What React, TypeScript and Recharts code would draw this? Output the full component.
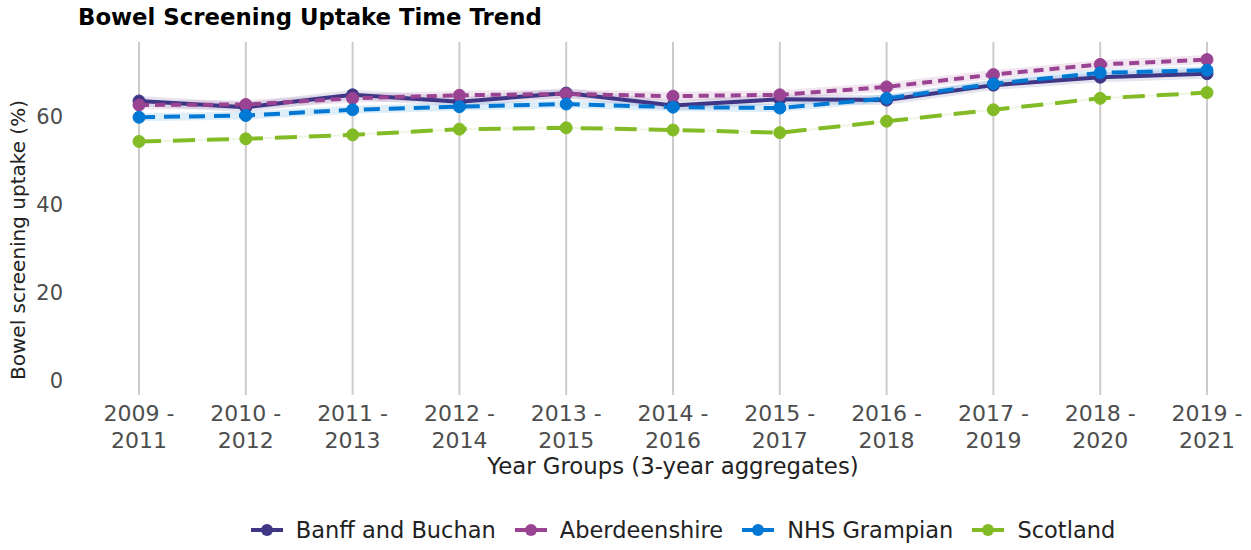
import React from 'react'
import { LineChart, Line, XAxis, YAxis, CartesianGrid, Label } from 'recharts'

// ─── Data ────────────────────────────────────────────────────────────────────

const yearGroups = [
  '2009 - 2011', '2010 - 2012', '2011 - 2013', '2012 - 2014', '2013 - 2015', '2014 - 2016',
  '2015 - 2017', '2016 - 2018', '2017 - 2019', '2018 - 2020', '2019 - 2021',
]
const banffBuchan = [63.6, 62.2, 65.0, 63.4, 65.4, 62.6, 64.0, 63.8, 67.2, 69.0, 69.8]
const aberdeenshire = [62.7, 62.8, 64.2, 64.9, 65.2, 64.7, 65.0, 66.8, 69.6, 71.9, 73.0]
const nhsGrampian = [59.9, 60.3, 61.6, 62.3, 62.9, 62.2, 62.0, 64.2, 67.5, 70.0, 70.6]
const scotland = [54.4, 55.0, 55.9, 57.2, 57.5, 57.0, 56.4, 59.0, 61.6, 64.2, 65.5]
const yTicks = [0, 20, 40, 60]

// faint band = confidence-ish halo drawn behind each line
const series = [
  { key: 'banff', name: 'Banff and Buchan', color: '#3F3685', dash: undefined as string | undefined, band: 10 },
  { key: 'aberdeenshire', name: 'Aberdeenshire', color: '#9B4393', dash: '10 6', band: 9 },
  { key: 'grampian', name: 'NHS Grampian', color: '#0078D4', dash: '16 9', band: 8 },
  { key: 'scotland', name: 'Scotland', color: '#83BB26', dash: '22 12', band: 2 },
]

const data = yearGroups.map((g, i) => ({
  group: g,
  banff: banffBuchan[i],
  aberdeenshire: aberdeenshire[i],
  grampian: nhsGrampian[i],
  scotland: scotland[i],
}))

const FONT = '"DejaVu Sans", sans-serif'
const TICK = '#4d4d4d'
const PAD_L = 39
const PAD_R = 33

function YearTick({ x, y, payload }: any) {
  const [a, b] = String(payload.value).split(' - ')
  return (
    <text x={x} y={y} textAnchor="middle" fill={TICK} fontSize={22} fontFamily={FONT}>
      <tspan x={x} dy={24}>{a} -</tspan>
      <tspan x={x} dy={27}>{b}</tspan>
    </text>
  )
}

// grid lines only at the categories, not at the plot edges
const gridX = ({ offset }: any) => {
  const step = (offset.width - PAD_L - PAD_R) / (yearGroups.length - 1)
  return yearGroups.map((_, i) => offset.left + PAD_L + i * step)
}

export default function App() {
  return (
    <div style={{ position: 'fixed', left: 0, top: 0, width: 1251, height: 550, background: '#fff', fontFamily: FONT }}>
      <div style={{ position: 'absolute', left: 78, top: 4, fontSize: 22.8, fontWeight: 'bold', color: '#000' }}>
        Bowel Screening Uptake Time Trend
      </div>

      <LineChart width={1251} height={550} data={data} margin={{ top: 42, right: 11, left: 0, bottom: 65 }}>
        <CartesianGrid horizontal={false} stroke="#cccccc" strokeWidth={2} verticalCoordinatesGenerator={gridX} />
        <XAxis
          dataKey="group"
          type="category"
          padding={{ left: PAD_L, right: PAD_R }}
          axisLine={false}
          tickLine={false}
          tickSize={0}
          tick={<YearTick />}
          interval={0}
          height={90}
        >
          <Label
            content={() => (
              <text x={673} y={474} textAnchor="middle" fill="#222" fontSize={22.8} fontFamily={FONT}>
                Year Groups (3-year aggregates)
              </text>
            )}
          />
        </XAxis>
        <YAxis
          domain={[-3.2, 77]}
          ticks={yTicks}
          axisLine={false}
          tickLine={false}
          tickSize={0}
          tickMargin={37}
          width={100}
          tick={{ fill: TICK, fontSize: 21, fontFamily: FONT }}
        >
          <Label
            content={() => (
              <text
                x={18}
                y={240}
                transform="rotate(-90, 18, 240)"
                textAnchor="middle"
                dominantBaseline="central"
                fill="#222"
                fontSize={20}
                fontFamily={FONT}
              >
                Bowel screening uptake (%)
              </text>
            )}
          />
        </YAxis>
        {series.map((s) => (
          <Line
            key={s.key + '-band'}
            dataKey={s.key}
            legendType="none"
            type="linear"
            stroke={s.color}
            strokeOpacity={0.13}
            strokeWidth={s.band}
            dot={false}
            activeDot={false}
            isAnimationActive={false}
          />
        ))}
        {series.map((s) => (
          <Line
            key={s.key}
            dataKey={s.key}
            name={s.name}
            type="linear"
            stroke={s.color}
            strokeWidth={4}
            strokeDasharray={s.dash}
            dot={{ r: 6, fill: s.color, stroke: s.color, strokeWidth: 1, strokeDasharray: '' }}
            activeDot={false}
            isAnimationActive={false}
          />
        ))}
      </LineChart>

      <div
        style={{
          position: 'absolute',
          top: 517,
          left: 0,
          width: 1251,
          display: 'flex',
          justifyContent: 'center',
          paddingLeft: 114,
          boxSizing: 'border-box',
          gap: 18,
          fontSize: 22.5,
          color: '#222',
        }}
      >
        {series.map((s) => (
          <div key={s.key} style={{ display: 'flex', alignItems: 'center', gap: 12 }}>
            <svg width={34} height={14}>
              <line x1={1} x2={33} y1={7} y2={7} stroke={s.color} strokeWidth={4} />
              <circle cx={17} cy={7} r={6} fill={s.color} />
            </svg>
            <span>{s.name}</span>
          </div>
        ))}
      </div>
    </div>
  )
}
